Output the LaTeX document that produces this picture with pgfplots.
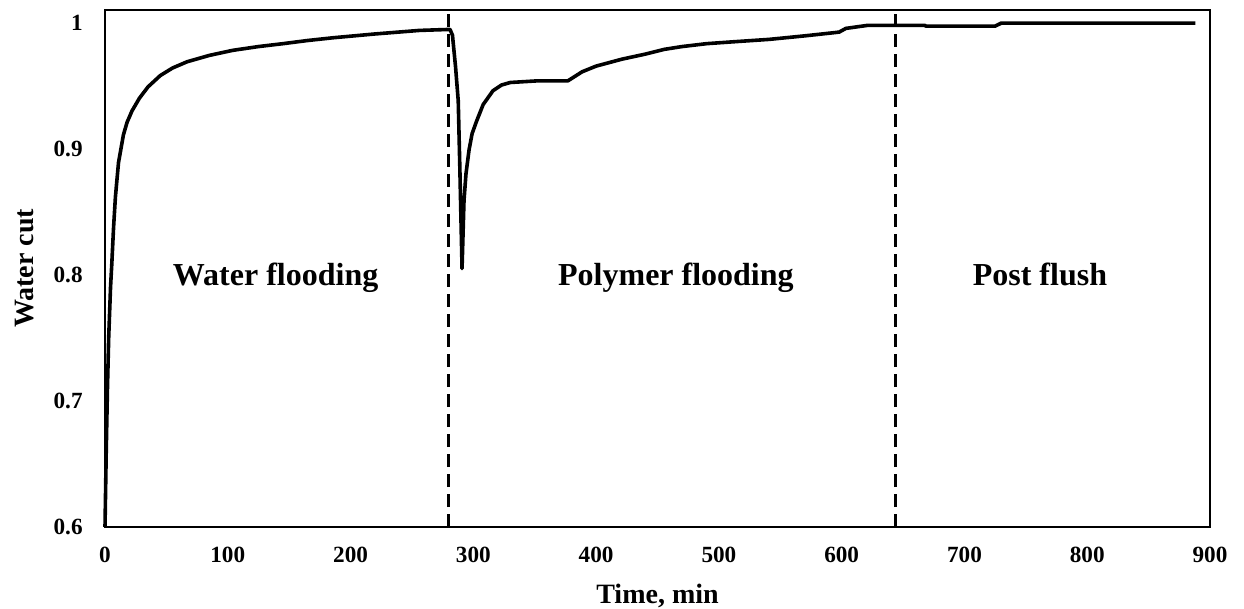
\documentclass[border=0pt]{standalone}
\usepackage{fontspec}
\setmainfont{Liberation Serif}
\usepackage{pgfplots}
\pgfplotsset{compat=1.18}
\begin{document}
\begin{tikzpicture}
\begin{axis}[
  scale only axis,
  width=552.5pt, height=258.5pt,
  xmin=0, xmax=900, ymin=0.6, ymax=1.01,
  xtick={0,100,...,900},
  ytick={0.6,0.7,0.8,0.9,1},
  yticklabels={0.6,0.7,0.8,0.9,1},
  major tick length=0pt,
  axis line style={line width=1pt},
  /pgf/number format/assume math mode=true,
  tick label style={font=\fontsize{11.6}{13}\selectfont\bfseries},
  xticklabel style={anchor=center, yshift=-14pt},
  yticklabel style={anchor=east, inner sep=0pt, xshift=-11pt},
  xlabel={Time, min},
  ylabel={Water cut},
  label style={font=\fontsize{14}{16}\selectfont\bfseries},
  xlabel style={at={(axis description cs:0.5,-0.1335)}, anchor=center},
  ylabel style={at={(axis description cs:-0.0724,0.5)}, anchor=center},
  clip=false,
]
\addplot[black, line width=1.8pt, line join=round] coordinates {
(0,0.600) (1,0.660) (2,0.710) (3,0.750) (4.5,0.790) (5.5,0.808)
(7,0.838) (8.5,0.862) (11,0.889) (15,0.911) (18,0.921) (22,0.930)
(28,0.940) (35,0.949) (45,0.958) (55,0.964) (67,0.969) (85,0.974)
(104,0.978) (125,0.981) (145,0.9833) (165,0.9858) (186,0.988)
(220,0.991) (256,0.9938) (281,0.9946)
(283,0.990) (285.5,0.965) (287.7,0.938) (289,0.885) (290.8,0.805)
(292.4,0.859) (294,0.880) (296.5,0.899) (299,0.912) (302.7,0.922)
(308,0.935) (316,0.946) (323,0.9505) (330,0.9525) (352,0.9538)
(377,0.9538) (388.6,0.9610) (400,0.9655) (421,0.971) (440,0.975)
(455.6,0.9788) (470,0.981) (490,0.9833) (515,0.985) (541,0.9867)
(570,0.9895) (593.7,0.992) (598,0.9925) (603.4,0.9954) (621,0.9978)
(667.8,0.9978) (668.5,0.9972) (725,0.9972) (730,0.9996) (888,0.9996)
};
\addplot[black, line width=1.3pt, dash pattern=on 6.5pt off 3.5pt] coordinates {(280,0.6) (280,1.01)};
\addplot[black, line width=1.3pt, dash pattern=on 6.5pt off 3.5pt] coordinates {(644,0.6) (644,1.01)};
\node[font=\fontsize{16}{18}\selectfont\bfseries, anchor=base] at (axis cs:139,0.7915) {Water flooding};
\node[font=\fontsize{16}{18}\selectfont\bfseries, anchor=base] at (axis cs:465,0.7915) {Polymer flooding};
\node[font=\fontsize{16}{18}\selectfont\bfseries, anchor=base] at (axis cs:761.5,0.7915) {Post flush};
\end{axis}
\pgfresetboundingbox
\path[use as bounding box] ([xshift=-52.5pt,yshift=-40.5pt]current axis.south west) rectangle ([xshift=17pt,yshift=5pt]current axis.north east);
\end{tikzpicture}
\end{document}
